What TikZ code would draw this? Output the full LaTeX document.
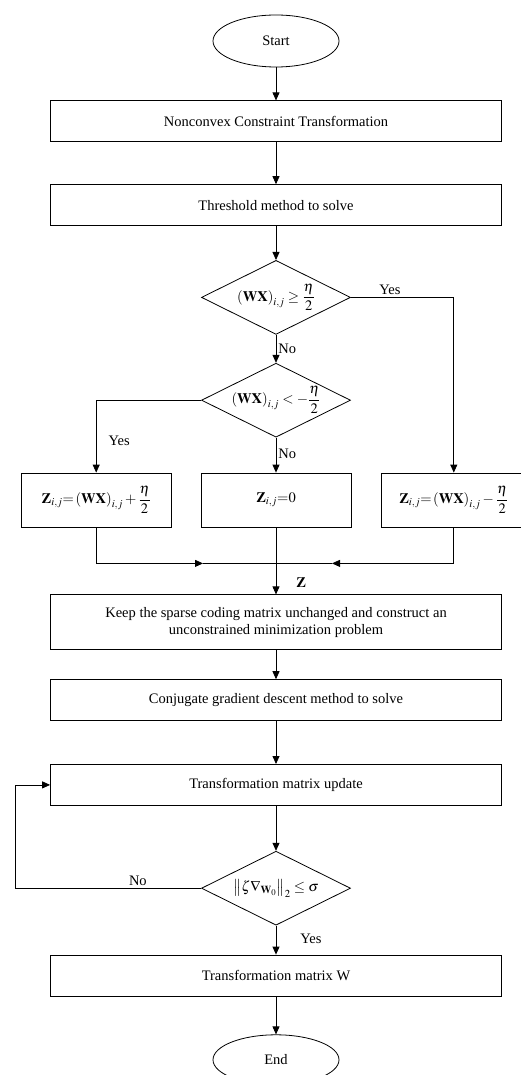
\documentclass[tikz,border=0pt]{standalone}
\usepackage{amsmath}
\usepackage{mathptmx}
\usepackage{fontspec}
\setmainfont{Liberation Serif}
\usepackage{tikz}
\usetikzlibrary{arrows.meta,positioning,shapes.geometric,calc}

\begin{document}
\begin{tikzpicture}[
  x=1pt, y=1pt,
  font=\fontsize{14.5}{17.5}\selectfont,
  box/.style={draw, rectangle, align=center, minimum width=451pt, minimum height=41pt, inner sep=4pt, line width=0.8pt},
  tallbox/.style={box, minimum height=55pt},
  casebox/.style={box, minimum width=150pt, minimum height=54pt},
  term/.style={draw, ellipse, minimum width=126pt, minimum height=52pt, line width=0.8pt},
  test/.style={draw, diamond, aspect=2, minimum width=149pt, minimum height=74pt, inner sep=0pt, line width=0.8pt},
  link/.style={line width=0.8pt},
  line/.style={link, -{Triangle[length=8pt,width=7pt]}},
  tag/.style={inner sep=2pt}
]

\useasboundingbox (0,0) rectangle (521,-1075);

\node[term] (start) at (276,-41) {Start};
\node[box, below=33pt of start] (relax) {Nonconvex Constraint Transformation};
\node[box, below=42pt of relax] (thresh) {Threshold method to solve};
\node[test, below=34pt of thresh] (upper) {$\left(\mathbf{WX}\right)_{i,j}\geq\dfrac{\eta}{2}$};
\node[test, below=28pt of upper] (lower) {$\left(\mathbf{WX}\right)_{i,j}<-\dfrac{\eta}{2}$};

\node[casebox, below=35pt of lower] (zero) {$\mathbf{Z}_{i,j}{=}0$};
\node[casebox, left=29pt of zero] (plus) {$\mathbf{Z}_{i,j}{=}\left(\mathbf{WX}\right)_{i,j}+\dfrac{\eta}{2}$};
\node[casebox, minimum width=144pt, right=30pt of zero] (minus) {$\mathbf{Z}_{i,j}{=}\left(\mathbf{WX}\right)_{i,j}-\dfrac{\eta}{2}$};

\node[tallbox, below=67pt of zero] (keep) {Keep the sparse coding matrix unchanged and construct an\\unconstrained minimization problem};
\node[box, below=29pt of keep] (cgd) {Conjugate gradient descent method to solve};
\node[box, below=43pt of cgd] (update) {Transformation matrix update};
\node[test, below=45pt of update] (stop) {$\big\|\zeta\nabla_{\mathbf{W}_0}\big\|_2\leq\sigma$};
\node[box, below=29pt of stop] (result) {Transformation matrix W};
\node[term, minimum height=50pt, below=38pt of result] (end) {End};

\draw[line] (start) -- (relax);
\draw[line] (relax) -- (thresh);
\draw[line] (thresh) -- (upper);
\draw[line] (upper) -- node[tag, right]{No} (lower);
\draw[line] (upper.east) -| node[tag, pos=0.19, above]{Yes} (minus.north);
\draw[line] (lower.west) -| node[tag, pos=0.78, right=10pt]{Yes} (plus.north);
\draw[line] (lower) -- node[tag, pos=0.45, right]{No} (zero);

% merge of the three cases
\coordinate[below=36pt of zero] (join);
\coordinate[left=73pt of join] (ljoin);
\coordinate[right=56pt of join] (rjoin);
\draw[line] (plus.south) |- (ljoin);
\draw[link] (ljoin) -- (join);
\draw[line] (minus.south) |- (rjoin);
\draw[link] (rjoin) -- (join);
\draw[line] (zero) -- node[tag, pos=0.82, right=18pt]{$\mathbf{Z}$} (keep);

\draw[line] (keep) -- (cgd);
\draw[line] (cgd) -- (update);
\draw[line] (update) -- (stop);
\coordinate[left=186pt of stop.west] (back);
\draw[line] (stop.west) -- node[tag, pos=0.34, above]{No} (back) |- (update.west);
\draw[line] (stop) -- node[tag, pos=0.45, right=22pt]{Yes} (result);
\draw[line] (result) -- (end);
\end{tikzpicture}
\end{document}
